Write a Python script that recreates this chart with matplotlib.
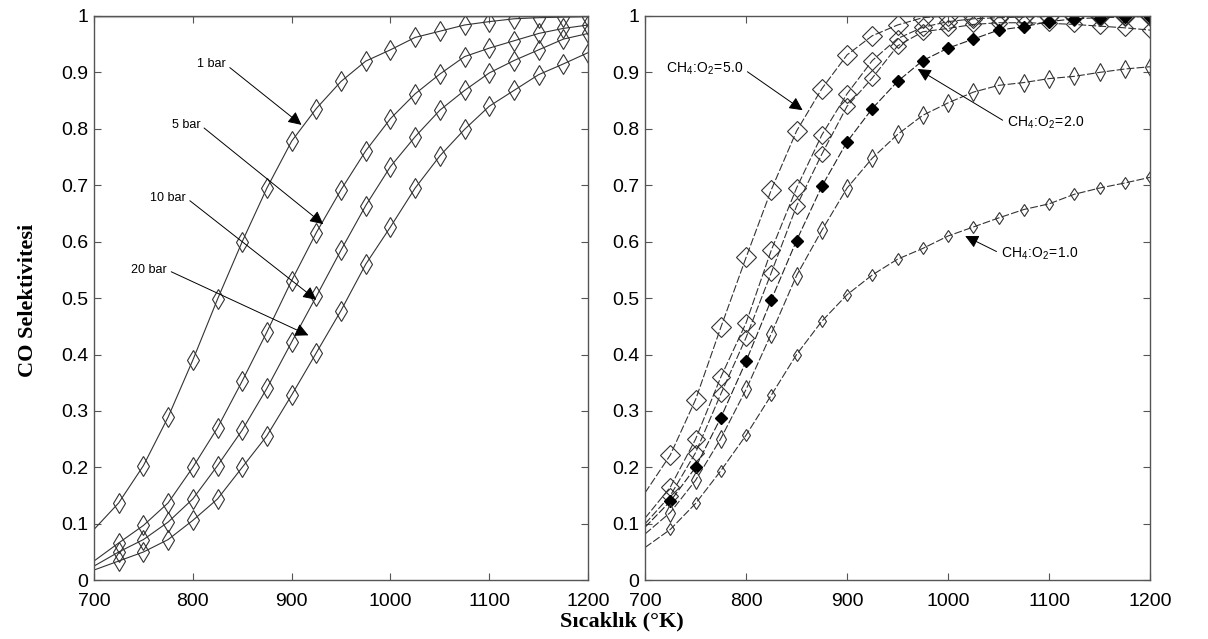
import matplotlib
matplotlib.use('Agg')
import matplotlib.pyplot as plt

plt.rcParams['font.family'] = ['Liberation Sans Narrow', 'Liberation Sans', 'DejaVu Sans']

# sicaklik (K)
temp = [700, 725, 750, 775, 800, 825, 850, 875, 900, 925, 950,
        975, 1000, 1025, 1050, 1075, 1100, 1125, 1150, 1175, 1200]

# sol grafik: basinc etkisi
bar_1 = [0.09, 0.137, 0.203, 0.289, 0.39, 0.498, 0.60, 0.695, 0.778, 0.836, 0.884,
         0.92, 0.94, 0.962, 0.973, 0.984, 0.99, 0.995, 0.997, 0.998, 0.999]
bar_5 = [0.034, 0.066, 0.097, 0.137, 0.20, 0.27, 0.353, 0.44, 0.531, 0.616, 0.692,
         0.761, 0.818, 0.862, 0.897, 0.928, 0.943, 0.956, 0.969, 0.978, 0.984]
bar_10 = [0.025, 0.05, 0.072, 0.103, 0.144, 0.203, 0.266, 0.34, 0.422, 0.503, 0.585,
          0.664, 0.733, 0.786, 0.833, 0.868, 0.899, 0.921, 0.94, 0.959, 0.969]
bar_20 = [0.018, 0.034, 0.05, 0.072, 0.106, 0.144, 0.20, 0.256, 0.328, 0.403, 0.478,
          0.56, 0.626, 0.695, 0.752, 0.799, 0.84, 0.868, 0.896, 0.915, 0.935]

# sag grafik: CH4:O2 orani etkisi
r_50 = [0.155, 0.222, 0.32, 0.448, 0.572, 0.692, 0.796, 0.871, 0.931, 0.965, 0.984,
        0.997, 1.0, 1.0, 1.0, 1.0, 1.0, 1.0, 1.0, 1.0, 1.0]
r_b = [0.11, 0.165, 0.25, 0.36, 0.456, 0.585, 0.695, 0.789, 0.862, 0.921, 0.96,
       0.98, 0.99, 0.995, 0.997, 0.998, 0.999, 1.0, 1.0, 1.0, 1.0]
r_c = [0.10, 0.15, 0.226, 0.33, 0.43, 0.545, 0.663, 0.755, 0.84, 0.89, 0.947,
       0.972, 0.978, 0.985, 0.988, 0.988, 0.987, 0.985, 0.982, 0.979, 0.975]
r_20 = [0.094, 0.14, 0.20, 0.288, 0.388, 0.497, 0.602, 0.698, 0.777, 0.836, 0.884,
        0.921, 0.943, 0.959, 0.975, 0.981, 0.99, 0.995, 0.997, 0.998, 0.999]
r_f = [0.082, 0.12, 0.177, 0.251, 0.338, 0.437, 0.54, 0.62, 0.695, 0.748, 0.79,
       0.824, 0.846, 0.865, 0.877, 0.882, 0.889, 0.893, 0.90, 0.906, 0.91]
r_10 = [0.058, 0.09, 0.136, 0.194, 0.257, 0.328, 0.40, 0.459, 0.506, 0.541, 0.569,
        0.588, 0.61, 0.626, 0.642, 0.657, 0.667, 0.684, 0.695, 0.704, 0.714]

yticks = [0, 0.1, 0.2, 0.3, 0.4, 0.5, 0.6, 0.7, 0.8, 0.9, 1]
ytick_labels = ['0', '0.1', '0.2', '0.3', '0.4', '0.5', '0.6', '0.7', '0.8', '0.9', '1']
xticks = [700, 800, 900, 1000, 1100, 1200]

fig = plt.figure(figsize=(12.08, 6.39), dpi=100)
ax1 = fig.add_axes([0.0778, 0.092, 0.409, 0.883])
ax2 = fig.add_axes([0.534, 0.092, 0.418, 0.883])

for y in [bar_1, bar_5, bar_10, bar_20]:
    ax1.plot(temp, y, color='#333333', lw=0.8, marker='d', ms=10, mfc='none',
             mec='#333333', mew=0.8, markevery=slice(1, None))

dash = (0, (7, 2))
ax2.plot(temp, r_50, color='#333333', lw=0.8, ls=dash, marker='D', ms=10, mfc='none',
         mec='#333333', mew=0.8, markevery=slice(1, None))
ax2.plot(temp, r_b, color='#333333', lw=0.8, ls=dash, marker='D', ms=9, mfc='none',
         mec='#333333', mew=0.8, markevery=slice(1, None))
ax2.plot(temp, r_c, color='#333333', lw=0.8, ls=dash, marker='D', ms=8, mfc='none',
         mec='#333333', mew=0.8, markevery=slice(1, None))
ax2.plot(temp, r_20, color='#222222', lw=0.8, ls=dash, marker='D', ms=6, mfc='black',
         mec='black', markevery=slice(1, None))
ax2.plot(temp, r_f, color='#333333', lw=0.8, ls=dash, marker='d', ms=9, mfc='none',
         mec='#333333', mew=0.8, markevery=slice(1, None))
ax2.plot(temp, r_10, color='#333333', lw=0.8, ls=dash, marker='d', ms=6, mfc='none',
         mec='#333333', mew=0.8, markevery=slice(1, None))

for ax in [ax1, ax2]:
    ax.set_xlim(700, 1200)
    ax.set_ylim(0, 1)
    ax.set_xticks(xticks)
    ax.set_yticks(yticks)
    ax.set_yticklabels(ytick_labels)
    ax.tick_params(direction='in', top=True, right=True, length=5, width=0.8,
                   labelsize=14, color='#555555')
    ax.tick_params(axis='x', pad=9)
    ax.tick_params(axis='y', pad=4)
    for s in ax.spines.values():
        s.set_color('#555555')
        s.set_linewidth(1.0)

# ust kenardaki acik gri bant
ax1.axhline(1.0, color='#cccccc', lw=3, zorder=0)

arrow = dict(arrowstyle='-|>', color='black', lw=0.7, mutation_scale=20,
             shrinkA=1, shrinkB=0)

left_notes = [('1 bar', (819, 0.914), (910, 0.807)),
              ('5 bar', (793, 0.807), (932, 0.631)),
              ('10 bar', (775, 0.678), (925, 0.497)),
              ('20 bar', (756, 0.55), (917, 0.434))]
for txt, xytext, xy in left_notes:
    ax1.annotate(txt, xy=xy, xytext=xytext, fontsize=9, ha='center', va='center',
                 arrowprops=dict(arrow, relpos=(1, 0.5)))

ax2.annotate(r'$\mathregular{CH_4\!:\!O_2\!=\!5.0}$', xy=(856, 0.833), xytext=(721, 0.906),
             fontsize=10, ha='left', va='center', arrowprops=dict(arrow, relpos=(1, 0.5)))
ax2.annotate(r'$\mathregular{CH_4\!:\!O_2\!=\!2.0}$', xy=(970, 0.906), xytext=(1058, 0.811),
             fontsize=10, ha='left', va='center', arrowprops=dict(arrow, relpos=(0, 0.5)))
ax2.annotate(r'$\mathregular{CH_4\!:\!O_2\!=\!1.0}$', xy=(1017, 0.61), xytext=(1052, 0.579),
             fontsize=10, ha='left', va='center', arrowprops=dict(arrow, relpos=(0, 0.5)))

fig.text(0.515, 0.027, 'Sıcaklık (°K)', ha='center', va='center', fontsize=16,
         fontweight='bold', family='Liberation Serif')
fig.text(0.023, 0.53, 'CO Selektivitesi', ha='center', va='center', fontsize=16,
         fontweight='bold', family='Liberation Serif', rotation=90)

fig.savefig('out.png', dpi=100)
